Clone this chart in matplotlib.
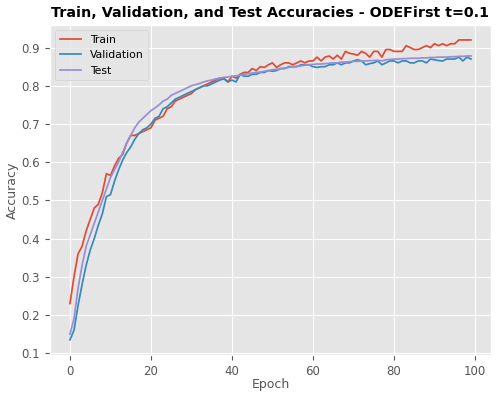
import numpy as np
import matplotlib.pyplot as plt

plt.style.use('ggplot')

epochs = np.arange(100)

train_acc = [
    0.23, 0.30, 0.36, 0.38, 0.42, 0.45, 0.48, 0.49, 0.52, 0.57,
    0.565, 0.59, 0.61, 0.62, 0.65, 0.67, 0.67, 0.675, 0.68, 0.685,
    0.69, 0.71, 0.715, 0.72, 0.74, 0.745, 0.76, 0.765, 0.77, 0.775,
    0.78, 0.79, 0.795, 0.80, 0.805, 0.81, 0.815, 0.82, 0.82, 0.81,
    0.825, 0.82, 0.83, 0.835, 0.835, 0.845, 0.84, 0.85, 0.848, 0.855,
    0.86, 0.848, 0.855, 0.86, 0.86, 0.855, 0.86, 0.865, 0.86, 0.865,
    0.865, 0.875, 0.865, 0.875, 0.878, 0.87, 0.88, 0.87, 0.89, 0.885,
    0.883, 0.88, 0.89, 0.885, 0.875, 0.89, 0.89, 0.875, 0.895, 0.895,
    0.89, 0.89, 0.89, 0.905, 0.90, 0.895, 0.895, 0.90, 0.905, 0.90,
    0.91, 0.905, 0.91, 0.905, 0.91, 0.91, 0.92, 0.92, 0.92, 0.92,
]

val_acc = [
    0.135, 0.16, 0.225, 0.28, 0.33, 0.37, 0.40, 0.435, 0.465, 0.51,
    0.515, 0.55, 0.58, 0.605, 0.625, 0.64, 0.66, 0.675, 0.685, 0.69,
    0.70, 0.715, 0.72, 0.74, 0.745, 0.755, 0.765, 0.77, 0.775, 0.78,
    0.785, 0.79, 0.795, 0.80, 0.80, 0.805, 0.81, 0.815, 0.818, 0.81,
    0.815, 0.81, 0.83, 0.825, 0.825, 0.83, 0.83, 0.835, 0.835, 0.84,
    0.838, 0.84, 0.845, 0.845, 0.85, 0.85, 0.85, 0.855, 0.855, 0.855,
    0.85, 0.848, 0.85, 0.85, 0.855, 0.855, 0.86, 0.855, 0.86, 0.86,
    0.865, 0.868, 0.865, 0.855, 0.858, 0.86, 0.865, 0.855, 0.86, 0.865,
    0.865, 0.86, 0.865, 0.865, 0.86, 0.86, 0.865, 0.865, 0.86, 0.87,
    0.868, 0.866, 0.865, 0.87, 0.87, 0.87, 0.875, 0.865, 0.875, 0.87,
]

test_acc = [
    0.15, 0.19, 0.27, 0.33, 0.38, 0.41, 0.44, 0.47, 0.50, 0.53,
    0.56, 0.58, 0.60, 0.625, 0.65, 0.67, 0.69, 0.705, 0.715, 0.725,
    0.735, 0.742, 0.75, 0.76, 0.765, 0.775, 0.78, 0.785, 0.79, 0.795,
    0.80, 0.803, 0.806, 0.81, 0.813, 0.815, 0.818, 0.82, 0.822, 0.823,
    0.825, 0.826, 0.828, 0.83, 0.832, 0.833, 0.835, 0.836, 0.838, 0.84,
    0.842, 0.843, 0.845, 0.846, 0.848, 0.85, 0.851, 0.852, 0.854, 0.855,
    0.856, 0.857, 0.857, 0.858, 0.859, 0.86, 0.86, 0.862, 0.862, 0.863,
    0.864, 0.864, 0.865, 0.865, 0.866, 0.866, 0.867, 0.865, 0.868, 0.869,
    0.87, 0.87, 0.871, 0.871, 0.872, 0.872, 0.872, 0.873, 0.873, 0.874,
    0.874, 0.875, 0.875, 0.875, 0.876, 0.876, 0.877, 0.877, 0.878, 0.878,
]

fig, ax = plt.subplots(figsize=(4.99, 3.96), dpi=100)
fig.subplots_adjust(left=0.100, right=0.984, top=0.937, bottom=0.104)

ax.plot(epochs, train_acc, lw=1.25, label='Train')
ax.plot(epochs, val_acc, lw=1.25, label='Validation')
ax.plot(epochs, test_acc, lw=1.25, label='Test')

ax.set_xlabel('Epoch', fontsize=9, labelpad=0)
ax.set_ylabel('Accuracy', fontsize=9, labelpad=2)
ax.set_title('Train, Validation, and Test Accuracies - ODEFirst t=0.1',
             fontsize=10.3, fontweight='bold')
ax.tick_params(labelsize=8.5)
ax.legend(loc='upper left', fontsize=7.8)

fig.savefig('out.png', dpi=100)
